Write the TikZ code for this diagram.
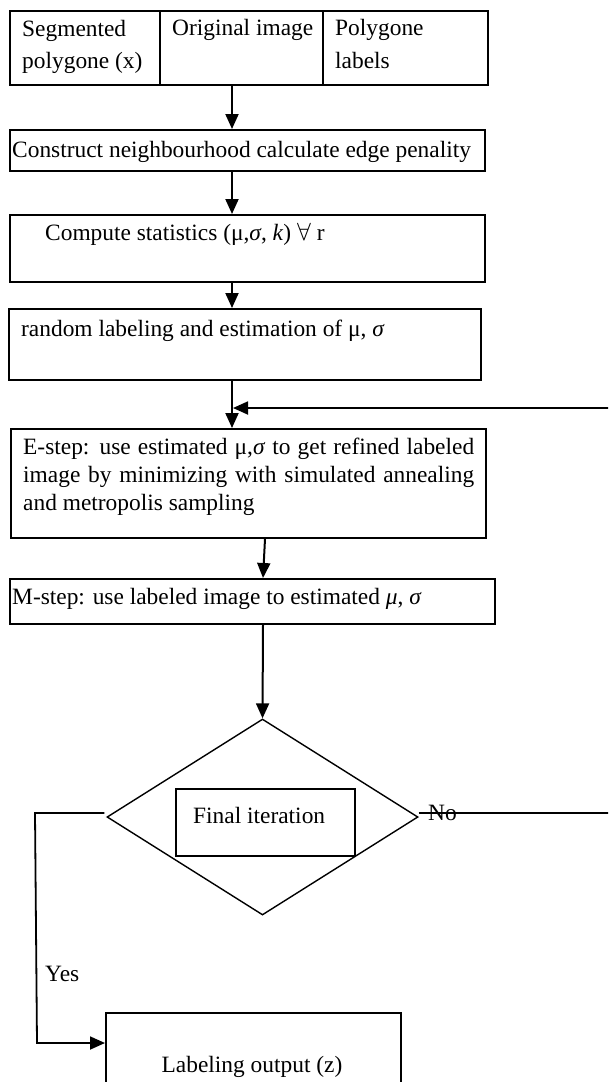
\documentclass[tikz,border=0pt]{standalone}
\usepackage{fontspec}
\setmainfont{Liberation Serif}
\usetikzlibrary{arrows.meta,shapes.geometric}
\begin{document}
\begin{tikzpicture}[x=1pt,y=-1pt,
  box/.style={draw, line width=2pt, rectangle, inner sep=0pt, anchor=north west},
  txt/.style={anchor=base west, inner sep=0pt, font=\fontsize{23.4}{27.5}\selectfont},
  arr/.style={line width=2pt, -{Triangle[length=15pt,width=13pt]}},
  thinline/.style={line width=1.5pt}]
\useasboundingbox (0,0) rectangle (608,1082);
\clip (0,0) rectangle (608,1082);
% helper coordinates
\coordinate (d1) at (160,0);
\coordinate (d2) at (323,0);
\coordinate (ax) at (232,0);
\coordinate (a5a) at (265,0);
\coordinate (a5b) at (263,0);
\coordinate (fb) at (233,408);
\coordinate (rr) at (625,0);
\coordinate (yl) at (37,0);
\coordinate (ya) at (0,1043);
% boxes
\node[box, minimum width=478pt, minimum height=74pt] (b1) at (9,10) {};
\draw[line width=2pt] (b1.north -| d1) -- (b1.south -| d1);
\draw[line width=2pt] (b1.north -| d2) -- (b1.south -| d2);
\node[box, minimum width=475pt, minimum height=41pt] (b2) at (9,129) {};
\node[box, minimum width=475pt, minimum height=67pt] (b3) at (9,214) {};
\node[box, minimum width=472pt, minimum height=71pt] (b4) at (8,308) {};
\node[box, minimum width=475pt, minimum height=109pt] (b5) at (10,428) {};
\node[box, minimum width=485pt, minimum height=45pt] (b6) at (9,578) {};
\node[draw, diamond, line width=1.4pt, inner sep=0pt, minimum width=311pt, minimum height=196pt] (dia) at (262.5,817) {};
\node[box, line width=1.8pt, minimum width=179pt, minimum height=67pt] (fin) at (175,788) {};
\node[box, minimum width=295pt, minimum height=100pt] (b7) at (105,1012) {};
% texts
\node[txt] (t1a) at (22,36) {Segmented};
\node[txt] (t1b) at (22,68) {polygone (x)};
\node[txt] (t2) at (172,35) {Original image};
\node[txt] (t3a) at (335,35) {Polygone};
\node[txt] (t3b) at (335,68) {labels};
\node[txt] (t4) at (12,157) {Construct neighbourhood calculate edge penality};
\node[txt] (t5) at (45,240) {Compute statistics (μ,\textit{σ}, \textit{k}) $\forall$ r};
\node[txt] (t6) at (21,336) {random labeling and estimation of μ, \textit{σ}};
\node[txt] (t7a) at (23,454) {\makebox[451pt][s]{E-step: use estimated μ,\textit{σ} to get refined labeled}};
\node[txt] (t7b) at (23,482) {\makebox[451pt][s]{image by minimizing with simulated annealing}};
\node[txt] (t7c) at (23,510) {and metropolis sampling};
\node[txt] (t8) at (12,604) {M-step: use labeled image to estimated \textit{μ}, \textit{σ}};
\node[txt] (t9) at (193,823) {Final iteration};
\node[txt] (tno) at (428,820) {No};
\node[txt] (tyes) at (45,981) {Yes};
\node[txt, anchor=base] (t10) at (252,1072) {Labeling output (z)};
% connectors
\draw[arr] (b1.south -| ax) -- (b2.north -| ax);
\draw[arr] (b2.south -| ax) -- (b3.north -| ax);
\draw[arr] (b3.south -| ax) -- (b4.north -| ax);
\draw[arr] (b4.south -| ax) -- (b5.north -| ax);
\draw[arr] (b5.south -| a5a) -- (b6.north -| a5b);
\draw[arr] (b6.south -| a5b) -- (dia.north);
\draw[arr, line width=1.8pt] ([yshift=4pt]dia.east) -- ([yshift=4pt]dia.east -| rr) -- (fb -| rr) -- (fb);
\draw[arr, line width=1.8pt] ([shift={(-2pt,4pt)}]dia.west) -- ([shift={(-2pt,4pt)}]dia.west -| yl) -- (ya -| yl) -- (ya -| b7.west);
\end{tikzpicture}
\end{document}
